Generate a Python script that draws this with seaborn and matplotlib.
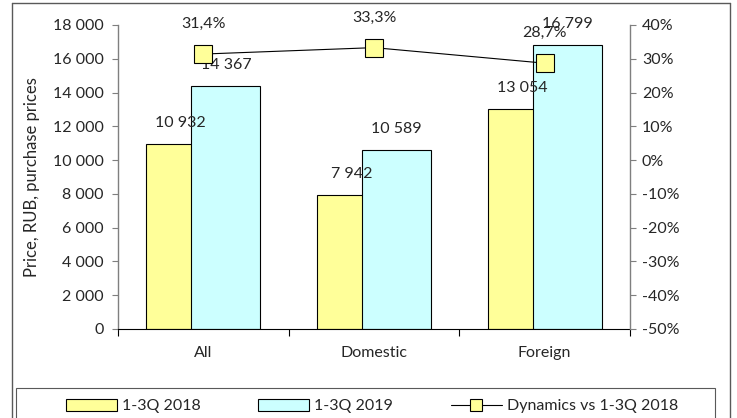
import matplotlib
matplotlib.use('Agg')
import matplotlib.pyplot as plt
from matplotlib.patches import Rectangle, Patch
from matplotlib.lines import Line2D
from matplotlib.ticker import FuncFormatter
import numpy as np
import pandas as pd
import seaborn as sns

# data
categories = ['All', 'Domestic', 'Foreign']
price_2018 = [10932, 7942, 13054]
price_2019 = [14367, 10589, 16799]
dynamics = [31.4, 33.3, 28.7]
series_names = ['1-3Q 2018', '1-3Q 2019']
line_name = 'Dynamics vs 1-3Q 2018'

yellow = '#ffff99'
cyan = '#ccffff'
gray = '#7f7f7f'

sns.set_style('white')
plt.rcParams['font.family'] = ['Lato', 'DejaVu Sans']
plt.rcParams['font.size'] = 11.5

df = pd.DataFrame({
    'cat': categories * 2,
    'price': price_2018 + price_2019,
    'period': [series_names[0]] * 3 + [series_names[1]] * 3,
})

fig = plt.figure(figsize=(7.37, 4.18), dpi=100)
ax = fig.add_axes([118 / 737, 89 / 418, 512 / 737, 304 / 418])

sns.barplot(data=df, x='cat', y='price', hue='period', palette=[yellow, cyan],
            saturation=1, edgecolor='black', linewidth=0.8, ax=ax,
            legend=False, width=0.8)

# Excel-like overlapping bars
bar_w = 0.405
offsets = [-0.132, 0.132]
for k, cont in enumerate(ax.containers):
    for i, p in enumerate(cont.patches):
        p.set_width(bar_w)
        p.set_x(i + offsets[k] - bar_w / 2)

for k, vals in enumerate([price_2018, price_2019]):
    for i, v in enumerate(vals):
        ax.annotate(f'{v:,}'.replace(',', ' '), (i + offsets[k], v),
                    xytext=(0, 21), textcoords='offset pixels',
                    ha='center', va='center', zorder=10)

ax.set_ylim(0, 18000)
ax.set_yticks(range(0, 18001, 2000))
ax.yaxis.set_major_formatter(FuncFormatter(lambda v, p: f'{int(v):,}'.replace(',', ' ')))
ax.set_xlim(-0.5, 2.5)
ax.set_xticks([-0.5, 0.5, 1.5, 2.5])
ax.set_xticklabels([])
ax.set_xticks([0, 1, 2], minor=True)
ax.set_xticklabels(categories, minor=True)
ax.tick_params(axis='x', which='major', direction='out', length=5, width=0.8,
               color='black', bottom=True)
ax.tick_params(axis='x', which='minor', length=0, pad=12, bottom=True)
ax.tick_params(axis='y', direction='out', length=4.5, width=0.8, color=gray,
               left=True, pad=6)
ax.set_xlabel('')
ax.set_ylabel('Price, RUB, purchase prices', fontsize=12)
ax.yaxis.set_label_coords(-0.152, 0.5)
for s in ['top', 'right']:
    ax.spines[s].set_visible(False)
ax.spines['left'].set_color(gray)
ax.spines['bottom'].set_color('black')
ax.spines['left'].set_linewidth(1.0)
ax.spines['bottom'].set_linewidth(0.8)

ax2 = ax.twinx()
sns.lineplot(x=[0, 1, 2], y=dynamics, ax=ax2, color='black', linewidth=0.8,
             marker='s', markersize=13, markerfacecolor=yellow,
             markeredgecolor='black', markeredgewidth=0.8)
for i, v in enumerate(dynamics):
    ax2.annotate(f'{v:.1f}%'.replace('.', ','), (i, v), xytext=(0, 30),
                 textcoords='offset pixels', ha='center', va='center', zorder=10)
ax2.set_ylim(-50, 40)
ax2.set_yticks(range(-50, 41, 10))
ax2.yaxis.set_major_formatter(FuncFormatter(lambda v, p: f'{int(v)}%'))
ax2.tick_params(axis='y', direction='out', length=4.5, width=0.8, color=gray,
                right=True, pad=4)
ax2.set_xlim(-0.5, 2.5)
for s in ['top', 'left', 'bottom']:
    ax2.spines[s].set_visible(False)
ax2.spines['right'].set_color(gray)
ax2.spines['right'].set_linewidth(1.0)

# outer chart frame (cut by the image edges)
frame_c = '#595959'
fig.add_artist(Line2D([12 / 737, 12 / 737], [-0.1, 1 - 3 / 418], color=frame_c, lw=1))
fig.add_artist(Line2D([730 / 737, 730 / 737], [-0.1, 1 - 3 / 418], color=frame_c, lw=1))
fig.add_artist(Line2D([12 / 737, 730 / 737], [1 - 3 / 418, 1 - 3 / 418], color=frame_c, lw=1))

# legend box
fig.add_artist(Rectangle((16 / 737, -0.1), 699 / 737, 30 / 418 + 0.1,
                         transform=fig.transFigure, fill=False, ec=frame_c, lw=0.8))
handles = [
    Patch(facecolor=yellow, edgecolor='black', linewidth=0.8),
    Patch(facecolor=cyan, edgecolor='black', linewidth=0.8),
    Line2D([], [], color='black', lw=0.8, marker='s', markersize=9,
           markerfacecolor=yellow, markeredgecolor='black', markeredgewidth=0.8),
]
fig.legend(handles, series_names + [line_name], loc='center', ncol=3,
           bbox_to_anchor=(372 / 737, 1 - 406 / 418), frameon=False,
           handlelength=3.2, handleheight=0.8, handletextpad=0.3,
           columnspacing=3.6)

fig.savefig('out.png', dpi=100)
